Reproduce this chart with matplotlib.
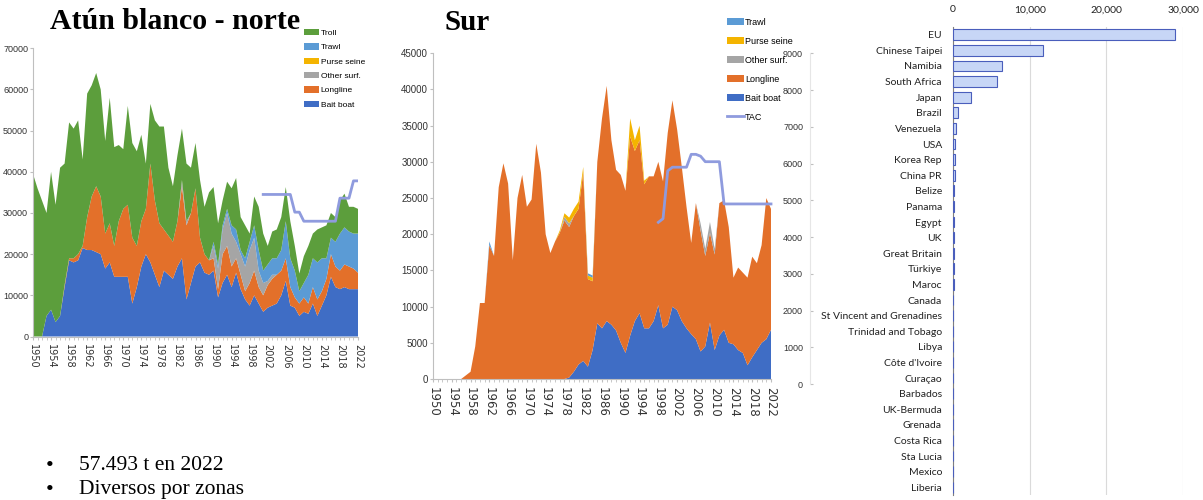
import matplotlib
matplotlib.use("Agg")
import matplotlib.pyplot as plt
import numpy as np
from matplotlib.lines import Line2D
from matplotlib.patches import Patch
from matplotlib.ticker import FuncFormatter

W, H = 1203, 500

# ---- data (thousand t) ----
years = np.arange(1950, 2023)

north_baitboat = [
    0, 0, 0, 5, 6.5, 3.5, 5, 12, 18.5, 18,
    18.5, 21.5, 21, 21, 20.5, 20, 16.5, 18, 14.5, 14.5,
    14.5, 14.5, 8, 12, 17, 20, 18, 15, 12, 16,
    15, 14, 17, 19, 9, 13, 17, 18, 15.5, 15,
    16, 9.5, 13, 15, 12, 15.5, 11.5, 9, 7.5, 10,
    8, 6, 7, 7.5, 8, 10, 13.5, 7.5, 7, 5,
    6, 5.5, 8, 5, 7.5, 10, 14.5, 12, 11.5, 12,
    11.5, 11.5, 11.5]
north_longline = [
    0, 0, 0, 0, 0, 0, 0, 0.5, 0.5, 1,
    1.5, 0.5, 8, 13, 16, 14, 8.5, 9.5, 7.5, 13.5,
    16.5, 17.5, 16, 10, 11, 11, 24, 18, 15.5, 10,
    9.5, 9, 11, 17.5, 18, 17, 19, 6, 4.5, 3.5,
    3, 2, 7, 7, 5, 3.5, 3.5, 2, 5.5, 6,
    4, 4, 5.5, 6.5, 7, 6, 5.5, 4.5, 2.5, 3,
    3.5, 2.5, 4, 4, 3.5, 4, 5.5, 5, 4.5, 5.5,
    5.5, 5, 4]
north_othersurf = [
    0, 0, 0, 0, 0, 0, 0, 0, 0, 0,
    0, 0, 0, 0, 0, 0, 0, 0, 0, 0,
    0, 0, 0, 0, 0, 0, 0, 0, 0, 0,
    0, 0, 0, 1.5, 1, 0, 0, 0, 0, 0,
    3, 5, 6, 8, 8, 4, 5, 6, 8, 8,
    4, 3, 1, 1, 0, 0, 0, 0, 0, 0,
    0, 0, 0, 0, 0, 0, 0, 0, 0, 0,
    0, 0, 0]
north_purseseine = [0] * 73
north_trawl = [
    0, 0, 0, 0, 0, 0, 0, 0, 0, 0,
    0, 0, 0, 0, 0, 0, 0, 0, 0, 0,
    0, 0, 0, 0, 0, 0, 0, 0, 0, 0,
    0, 0, 0, 0, 0, 0, 0, 0, 0, 0,
    1, 1, 1, 1, 2, 3, 1, 2, 2, 3,
    5, 3, 4, 4, 4, 5, 9, 7, 6.5, 3,
    3.5, 7, 7, 9, 8, 5, 4, 6, 9, 9,
    8.5, 8.5, 9.5]
north_troll = [
    39.5, 36, 33, 25, 33.5, 28.5, 36, 29.5, 33, 31.5,
    32.5, 21, 30, 27, 27.5, 26, 22.5, 30.5, 24, 18.5,
    14.5, 24, 23, 23, 21, 11, 14.5, 19.5, 23.5, 25,
    16.5, 13.5, 16, 12.5, 14, 11, 11, 14, 11.5, 16.5,
    13.3, 10, 6, 6.6, 9, 12.5, 8, 8, 2, 7,
    10.5, 9, 4.5, 6.5, 7, 8, 8.3, 9, 6, 4.3,
    6.5, 7, 6, 8, 7.5, 8, 6, 6, 8, 8.2,
    6, 6.5, 6]
north_tac_years = np.arange(2001, 2023)
north_tac = [34.5, 34.5, 34.5, 34.5, 34.5, 34.5, 34.5, 30.2, 30.2, 28,
             28, 28, 28, 28, 28, 28, 28, 33.6, 33.6, 33.6, 37.8, 37.8]

south_baitboat = [
    0, 0, 0, 0, 0, 0, 0, 0, 0, 0,
    0, 0, 0, 0, 0, 0, 0, 0, 0, 0,
    0, 0, 0, 0, 0, 0, 0, 0, 0, 0.2,
    1, 2, 2.5, 1.7, 4, 7.7, 7, 8, 7.5, 6.7,
    5, 3.6, 6, 8, 9.1, 7, 7, 8, 10.2, 7,
    7.5, 10, 9.5, 8, 7, 6.2, 5.5, 3.8, 4.5, 7.8,
    4, 6, 6.8, 5, 4.8, 4, 3.6, 1.9, 3, 4,
    5, 5.5, 6.8]
south_longline = [
    0, 0, 0, 0, 0, 0, 0, 0.5, 1, 4.5,
    10.5, 10.5, 18.5, 17, 26.5, 29.8, 27, 16.4, 25, 28.2,
    23.8, 24.8, 32.5, 28.5, 20, 17.4, 19, 20.2, 21.9, 20.8,
    21.5, 21.5, 26, 12.1, 9.5, 22.3, 29, 32.5, 25.5, 22.2,
    23.2, 22.4, 27.5, 23.5, 23.9, 19.9, 21, 20, 19.8, 20.3,
    26.5, 28.5, 25, 21.3, 16.8, 12.6, 18.8, 16.7, 12.5, 12.4,
    13.2, 18.3, 17.9, 16, 9.2, 11.4, 11.1, 12.1, 13.9, 12,
    13.5, 19.5, 16.7]
south_othersurf = [
    0, 0, 0, 0, 0, 0, 0, 0, 0, 0,
    0, 0, 0, 0, 0, 0, 0, 0, 0, 0,
    0, 0, 0, 0, 0, 0, 0, 0, 0.5, 0.5,
    0, 0, 0, 0, 0, 0, 0, 0, 0, 0,
    0, 0, 0, 0, 0, 0, 0, 0, 0, 0,
    0, 0, 0, 0, 0, 0, 0, 1, 1, 1.5,
    0.8, 0, 0, 0, 0, 0, 0, 0, 0, 0,
    0, 0, 0]
south_purseseine = [
    0, 0, 0, 0, 0, 0, 0, 0, 0, 0,
    0, 0, 0, 0, 0, 0, 0, 0, 0, 0,
    0, 0, 0, 0, 0, 0, 0, 0.3, 0.5, 0.8,
    1, 1, 0.8, 0.5, 0.5, 0, 0, 0, 0, 0,
    0, 0, 2.5, 1.5, 2, 0.5, 0, 0, 0, 0,
    0, 0, 0, 0, 0, 0, 0, 0, 0, 0,
    0, 0, 0, 0, 0, 0, 0, 0, 0, 0,
    0, 0, 0]
south_trawl = [
    0, 0, 0, 0, 0, 0, 0, 0, 0, 0,
    0, 0, 0.5, 0, 0, 0, 0, 0, 0, 0,
    0, 0, 0, 0, 0, 0, 0, 0, 0, 0,
    0, 0, 0, 0.3, 0.3, 0, 0, 0, 0, 0,
    0, 0, 0, 0, 0, 0, 0, 0, 0, 0,
    0, 0, 0, 0, 0, 0, 0, 0, 0, 0,
    0, 0, 0, 0, 0, 0, 0, 0, 0, 0,
    0, 0, 0]
# south TAC is drawn on the secondary axis (0-9000)
south_tac_years = np.arange(1998, 2023)
south_tac = [4.4, 4.5, 5.8, 5.9, 5.9, 5.9, 5.9, 6.25, 6.25, 6.2,
             6.05, 6.05, 6.05, 6.05, 4.9, 4.9, 4.9, 4.9, 4.9, 4.9,
             4.9, 4.9, 4.9, 4.9, 4.9]

countries = ["EU", "Chinese Taipei", "Namibia", "South Africa", "Japan", "Brazil",
             "Venezuela", "USA", "Korea Rep", "China PR", "Belize", "Panama",
             "Egypt", "UK", "Great Britain", "Türkiye", "Maroc", "Canada",
             "St Vincent and Grenadines", "Trinidad and Tobago", "Libya",
             "Côte d'Ivoire", "Curaçao", "Barbados", "UK-Bermuda", "Grenada",
             "Costa Rica", "Sta Lucia", "Mexico", "Liberia"]
country_catch = [28900, 11700, 6400, 5700, 2300, 600, 400, 300, 300, 250,
                 150, 150, 100, 100, 90, 80, 70, 60, 60, 50,
                 50, 40, 40, 30, 20, 20, 15, 10, 10, 5]

gear_labels = ["Bait boat", "Longline", "Other surf.", "Purse seine", "Trawl", "Troll"]
gear_colors = ["#3F6DC5", "#E3702A", "#A5A5A5", "#F4B400", "#5B9BD5", "#5C9E3C"]
TAC_COLOR = "#8F9BDE"
AX_GREY = "#BFBFBF"
NARROW = ["Liberation Sans Narrow", "Liberation Sans", "DejaVu Sans"]

plt.rcParams["font.family"] = NARROW

fig = plt.figure(figsize=(W / 100, H / 100), dpi=100)
fig.patch.set_facecolor("white")


def box(x0, y0, x1, y1):
    return fig.add_axes([x0 / W, 1 - y1 / H, (x1 - x0) / W, (y1 - y0) / H])


def style_area(ax, ymax, step, ysize, xsize):
    ax.set_xlim(1950, 2022)
    ax.set_ylim(0, ymax)
    ax.set_yticks(range(0, ymax + 1, step))
    ax.set_xticks(range(1950, 2023, 4))
    ax.set_xticks(years, minor=True)
    for s in ("top", "right"):
        ax.spines[s].set_visible(False)
    for s in ("left", "bottom"):
        ax.spines[s].set_color(AX_GREY)
        ax.spines[s].set_linewidth(0.8)
    ax.tick_params(axis="y", length=2, color=AX_GREY, labelsize=ysize, pad=1.5,
                   labelcolor="#333333")
    ax.tick_params(axis="x", which="both", length=2.5, color=AX_GREY)
    ax.tick_params(axis="x", labelsize=xsize, pad=3, labelcolor="#333333")
    for t in ax.get_xticklabels():
        t.set_rotation(-90)
        t.set_fontfamily("DejaVu Sans")
    ax.patch.set_alpha(0)


# ---- north ----
axn = box(33, 48.3, 358, 336.5)
axn.stackplot(years,
              np.array(north_baitboat) * 1000, np.array(north_longline) * 1000,
              np.array(north_othersurf) * 1000, np.array(north_purseseine) * 1000,
              np.array(north_trawl) * 1000, np.array(north_troll) * 1000,
              colors=gear_colors, linewidth=0)
axn.plot(north_tac_years, np.array(north_tac) * 1000, color=TAC_COLOR, lw=2)
style_area(axn, 70000, 10000, 6.5, 7)

handles_n = [Patch(facecolor=c, edgecolor="none") for c in gear_colors][::-1]
fig.legend(handles_n, gear_labels[::-1], loc="upper left",
           bbox_to_anchor=(304 / W, 1 - 29 / H), frameon=False, fontsize=6,
           handlelength=1.8, handleheight=0.8, handletextpad=0.2,
           labelspacing=0.75, borderpad=0, borderaxespad=0)

fig.text(50 / W, 1 - 29 / H, "Atún blanco - norte", family="Liberation Serif",
         weight="bold", fontsize=21.5, va="baseline", ha="left")

# ---- south ----
axs = box(433, 53.3, 771, 379)
axs.stackplot(years,
              np.array(south_baitboat) * 1000, np.array(south_longline) * 1000,
              np.array(south_othersurf) * 1000, np.array(south_purseseine) * 1000,
              np.array(south_trawl) * 1000,
              colors=gear_colors[:5], linewidth=0)
style_area(axs, 45000, 5000, 7, 8.5)

ax2 = box(433, 53.3, 810, 384)
ax2.set_xlim(1950, 1950 + 72 * (810 - 433) / (771 - 433))
ax2.set_ylim(0, 9000)
ax2.plot(south_tac_years, np.array(south_tac) * 1000, color=TAC_COLOR, lw=2)
ax2.patch.set_alpha(0)
for s in ("top", "left", "bottom"):
    ax2.spines[s].set_visible(False)
ax2.spines["right"].set_color("#E6E6E6")
ax2.set_xticks([])
ax2.yaxis.tick_right()
ax2.set_yticks(range(0, 9001, 1000))
ax2.tick_params(axis="y", length=2, color=AX_GREY, labelsize=6.5, pad=-7,
                labelcolor="#333333")
for t in ax2.get_yticklabels():
    t.set_ha("right")

handles_s = [Patch(facecolor=c, edgecolor="none") for c in gear_colors[:5]][::-1]
handles_s.append(Line2D([], [], color=TAC_COLOR, lw=2))
fig.legend(handles_s, gear_labels[:5][::-1] + ["TAC"], loc="upper left",
           bbox_to_anchor=(727 / W, 1 - 18 / H), frameon=False, fontsize=6.5,
           handlelength=1.9, handleheight=0.85, handletextpad=0.1,
           labelspacing=1.1, borderpad=0, borderaxespad=0)

fig.text(445 / W, 1 - 30 / H, "Sur", family="Liberation Serif",
         weight="bold", fontsize=21, va="baseline", ha="left")

# ---- catches by flag ----
axb = box(953, 27, 1183, 495)
ypos = np.arange(len(countries))
axb.barh(ypos, country_catch, height=0.68, color="#C7D6F6",
         edgecolor="#4A5EBC", linewidth=0.8, zorder=3)
axb.set_ylim(len(countries) - 0.5, -0.5)
axb.set_xlim(0, 30000)
axb.set_yticks(ypos)
axb.set_yticklabels(countries, family="Lato", fontsize=7.5, color="#222222")
axb.set_xticks(range(0, 30001, 10000))
axb.xaxis.set_major_formatter(FuncFormatter(lambda v, p: f"{int(v):,}"))
axb.xaxis.tick_top()
axb.tick_params(axis="x", length=0, labelsize=7.5, pad=9, labelcolor="#222222")
for t in axb.get_xticklabels():
    t.set_fontfamily("Lato")
axb.tick_params(axis="y", length=0, pad=8)
axb.grid(axis="x", color="#DADADA", lw=0.8, zorder=0)
for s in ("top", "right", "bottom"):
    axb.spines[s].set_visible(False)
axb.spines["left"].set_color("#7F7F7F")
axb.spines["left"].set_linewidth(0.8)

# ---- bullet text ----
for yb, text in [(470, "57.493 t en 2022"), (494, "Diversos por zonas")]:
    fig.text(46 / W, 1 - (yb + 1) / H, "•", family="Liberation Serif",
             fontsize=16, va="baseline", ha="left")
    fig.text(79 / W, 1 - yb / H, text, family="Liberation Serif",
             fontsize=15.5, va="baseline", ha="left")

fig.savefig("out.png", dpi=100, facecolor="white")
